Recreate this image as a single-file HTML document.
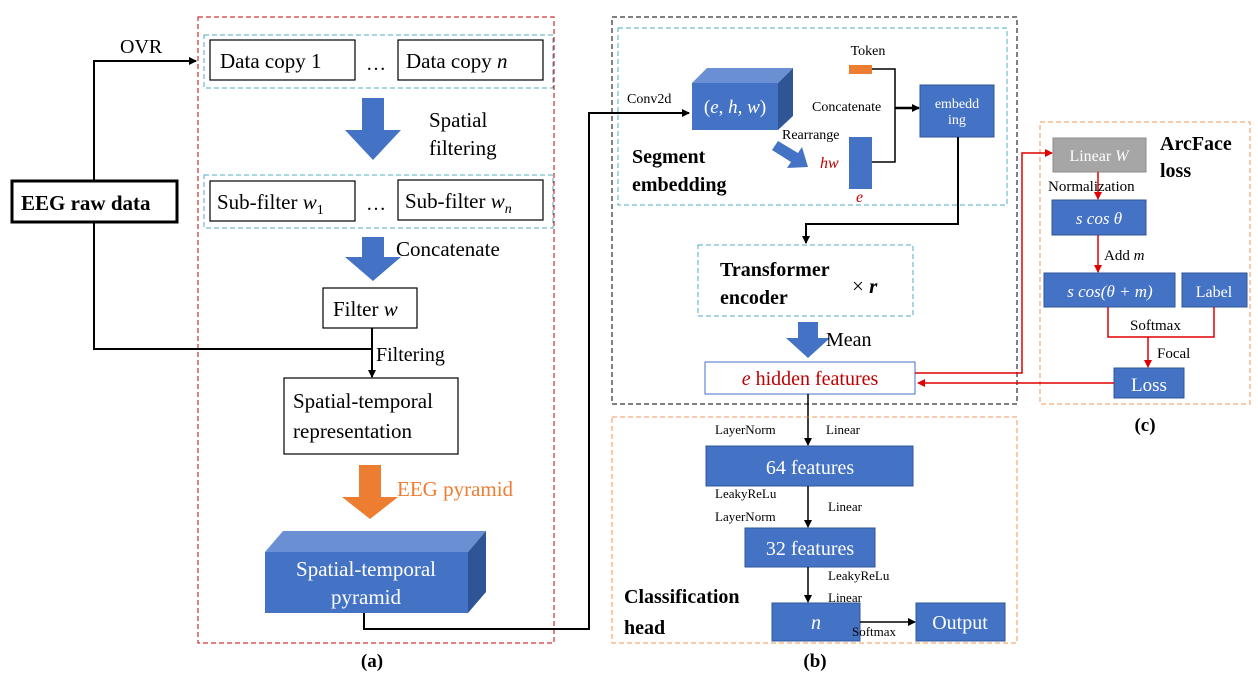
<!DOCTYPE html>
<html><head><meta charset="utf-8"><style>
html,body{margin:0;padding:0;background:#fff;}
svg{display:block;font-family:"Liberation Serif",serif;}
</style></head><body>
<svg width="1258" height="681" viewBox="0 0 1258 681" xmlns="http://www.w3.org/2000/svg">
<defs>
<marker id="ab" markerWidth="8" markerHeight="8" refX="7" refY="4" orient="auto" markerUnits="userSpaceOnUse"><path d="M0,0 L8,4 L0,8 z" fill="#000"/></marker>
<marker id="ar" markerWidth="8" markerHeight="8" refX="7" refY="4" orient="auto" markerUnits="userSpaceOnUse"><path d="M0,0 L8,4 L0,8 z" fill="#e00000"/></marker>
</defs>
<!-- Panel a -->
<rect x="198" y="17" width="356" height="626" fill="none" stroke="#c00000" stroke-dasharray="5,3" stroke-width="1"/>
<rect x="204" y="35" width="349" height="53" fill="none" stroke="#4bacc6" stroke-dasharray="5,3"/>
<rect x="210" y="40" width="145" height="40" fill="#fff" stroke="#000" stroke-width="1.2"/>
<text x="220" y="68" font-size="21">Data copy 1</text>
<text x="366" y="70" font-size="20">…</text>
<rect x="398" y="40" width="145" height="40" fill="#fff" stroke="#000" stroke-width="1.2"/>
<text x="406" y="68" font-size="21">Data copy <tspan font-style="italic">n</tspan></text>
<path d="M362,98 h22 v32 h17 l-28,30 l-28,-30 h17 z" fill="#4472c4"/>
<text x="429" y="127" font-size="21">Spatial</text>
<text x="429" y="155" font-size="21">filtering</text>
<rect x="204" y="175" width="349" height="53" fill="none" stroke="#4bacc6" stroke-dasharray="5,3"/>
<rect x="210" y="181" width="145" height="40" fill="#fff" stroke="#000" stroke-width="1.2"/>
<text x="217" y="209" font-size="21">Sub-filter <tspan font-style="italic">w</tspan><tspan font-size="14" dy="5">1</tspan></text>
<text x="366" y="210" font-size="20">…</text>
<rect x="398" y="180" width="145" height="40" fill="#fff" stroke="#000" stroke-width="1.2"/>
<text x="405" y="208" font-size="21">Sub-filter <tspan font-style="italic">w</tspan><tspan font-size="14" dy="5" font-style="italic">n</tspan></text>
<path d="M362,237 h22 v20 h17 l-28,24 l-28,-24 h17 z" fill="#4472c4"/>
<text x="396" y="256" font-size="21">Concatenate</text>
<rect x="323" y="288" width="94" height="40" fill="#fff" stroke="#000" stroke-width="1.2"/>
<text x="333" y="316" font-size="21">Filter <tspan font-style="italic">w</tspan></text>
<rect x="12" y="181" width="165" height="41" fill="#fff" stroke="#000" stroke-width="3"/>
<text x="21" y="210" font-size="21" font-weight="bold">EEG raw data</text>
<polyline points="94,181 94,61 196,61" fill="none" stroke="#000" stroke-width="2" marker-end="url(#ab)"/>
<text x="120" y="53" font-size="20">OVR</text>
<polyline points="94,222 94,349 372,349" fill="none" stroke="#000" stroke-width="2"/>
<line x1="372" y1="328" x2="372" y2="377" stroke="#000" stroke-width="2" marker-end="url(#ab)"/>
<text x="376" y="361" font-size="20">Filtering</text>
<rect x="284" y="378" width="174" height="76" fill="#fff" stroke="#000" stroke-width="1.2"/>
<text x="293" y="408" font-size="21">Spatial-temporal</text>
<text x="293" y="438" font-size="21">representation</text>
<path d="M359,465 h22 v32 h17 l-28,22 l-28,-22 h17 z" fill="#ed7d31"/>
<text x="397" y="496" font-size="21" fill="#ed7d31">EEG pyramid</text>
<polygon points="265,552 283,531 486,531 468,552" fill="#6a8fd3"/>
<polygon points="468,552 486,531 486,592 468,613" fill="#2f5597"/>
<rect x="265" y="552" width="203" height="61" fill="#4472c4"/>
<text x="366" y="576" font-size="21" fill="#fff" text-anchor="middle">Spatial-temporal</text>
<text x="366" y="604" font-size="21" fill="#fff" text-anchor="middle">pyramid</text>
<polyline points="364,613 364,629 589,629 589,113 689,113" fill="none" stroke="#000" stroke-width="2" marker-end="url(#ab)"/>
<text x="372" y="667" font-size="19" font-weight="bold" text-anchor="middle">(a)</text>
<!-- Panel b -->
<rect x="612" y="17" width="405" height="387" fill="none" stroke="#000" stroke-dasharray="5,3"/>
<rect x="618" y="28" width="389" height="177" fill="none" stroke="#4bacc6" stroke-dasharray="5,3"/>
<text x="627" y="103" font-size="14">Conv2d</text>
<polygon points="692,83 707,68 793,68 778,83" fill="#6a8fd3"/>
<polygon points="778,83 793,68 793,116 778,130" fill="#2f5597"/>
<rect x="692" y="83" width="86" height="47" fill="#4472c4"/>
<text x="735" y="113" font-size="19" fill="#fff" text-anchor="middle">(<tspan font-style="italic">e</tspan>, <tspan font-style="italic">h</tspan>, <tspan font-style="italic">w</tspan>)</text>
<text x="782" y="139" font-size="14">Rearrange</text>
<path d="M772,150 l6,-9 l20,12 l4,-6 l6,20 l-21,1 l4,-6 z" fill="#4472c4"/>
<text x="868" y="55" font-size="14" text-anchor="middle">Token</text>
<rect x="849" y="65" width="23" height="9" fill="#ed7d31"/>
<text x="812" y="111" font-size="14">Concatenate</text>
<text x="820" y="168" font-size="16" fill="#c00000" font-style="italic">hw</text>
<rect x="849" y="137" width="23" height="52" fill="#4472c4"/>
<text x="856" y="202" font-size="16" fill="#c00000" font-style="italic">e</text>
<polyline points="872,69 895,69 895,162 872,162" fill="none" stroke="#000" stroke-width="1.5"/>
<line x1="895" y1="108" x2="919" y2="108" stroke="#000" stroke-width="2.5" marker-end="url(#ab)"/>
<rect x="920" y="85" width="74" height="52" fill="#4472c4" stroke="#2f5597"/>
<text x="957" y="108" font-size="14" fill="#fff" text-anchor="middle">embedd</text>
<text x="957" y="124" font-size="14" fill="#fff" text-anchor="middle">ing</text>
<text x="632" y="163" font-size="20" font-weight="bold">Segment</text>
<text x="632" y="191" font-size="20" font-weight="bold">embedding</text>
<polyline points="958,137 958,224 806,224 806,243" fill="none" stroke="#000" stroke-width="2" marker-end="url(#ab)"/>
<rect x="698" y="245" width="215" height="71" fill="none" stroke="#4bacc6" stroke-dasharray="5,3"/>
<text x="720" y="276" font-size="20" font-weight="bold">Transformer</text>
<text x="720" y="304" font-size="20" font-weight="bold">encoder</text>
<text x="852" y="293" font-size="21">× <tspan font-style="italic" font-weight="bold">r</tspan></text>
<path d="M798,322 h20 v16 h12 l-22,20 l-22,-20 h12 z" fill="#4472c4"/>
<text x="826" y="346" font-size="20">Mean</text>
<rect x="705" y="362" width="210" height="32" fill="#fff" stroke="#4472c4"/>
<text x="810" y="385" font-size="20" fill="#c00000" text-anchor="middle"><tspan font-style="italic">e</tspan> hidden features</text>
<line x1="808" y1="394" x2="808" y2="445" stroke="#000" stroke-width="1.5" marker-end="url(#ab)"/>
<rect x="612" y="417" width="405" height="226" fill="none" stroke="#ed7d31" stroke-dasharray="5,3" stroke-opacity="0.8"/>
<text x="715" y="434" font-size="13">LayerNorm</text>
<text x="826" y="434" font-size="13">Linear</text>
<rect x="706" y="446" width="207" height="40" fill="#4472c4" stroke="#2f5597"/>
<text x="810" y="474" font-size="20" fill="#fff" text-anchor="middle">64 features</text>
<text x="715" y="498" font-size="13">LeakyReLu</text>
<text x="715" y="521" font-size="13">LayerNorm</text>
<text x="828" y="511" font-size="13">Linear</text>
<line x1="808" y1="486" x2="808" y2="527" stroke="#000" stroke-width="1.5" marker-end="url(#ab)"/>
<rect x="745" y="528" width="130" height="39" fill="#4472c4" stroke="#2f5597"/>
<text x="810" y="555" font-size="20" fill="#fff" text-anchor="middle">32 features</text>
<line x1="808" y1="567" x2="808" y2="602" stroke="#000" stroke-width="1.5" marker-end="url(#ab)"/>
<text x="828" y="580" font-size="13">LeakyReLu</text>
<text x="828" y="602" font-size="13">Linear</text>
<rect x="772" y="603" width="88" height="38" fill="#4472c4" stroke="#2f5597"/>
<text x="816" y="629" font-size="20" fill="#fff" font-style="italic" text-anchor="middle">n</text>
<line x1="860" y1="622" x2="915" y2="622" stroke="#000" stroke-width="1.5" marker-end="url(#ab)"/>
<text x="852" y="636" font-size="13">Softmax</text>
<rect x="916" y="603" width="89" height="38" fill="#4472c4" stroke="#2f5597"/>
<text x="960" y="629" font-size="20" fill="#fff" text-anchor="middle">Output</text>
<text x="624" y="603" font-size="20" font-weight="bold">Classification</text>
<text x="624" y="634" font-size="20" font-weight="bold">head</text>
<text x="815" y="667" font-size="19" font-weight="bold" text-anchor="middle">(b)</text>
<!-- Panel c -->
<rect x="1040" y="122" width="210" height="282" fill="none" stroke="#ed7d31" stroke-dasharray="5,3" stroke-opacity="0.8"/>
<rect x="1053" y="138" width="93" height="34" fill="#a6a6a6" stroke="#8c8c8c"/>
<text x="1099" y="161" font-size="16" fill="#fff" text-anchor="middle">Linear <tspan font-style="italic">W</tspan></text>
<text x="1160" y="150" font-size="20" font-weight="bold">ArcFace</text>
<text x="1160" y="177" font-size="20" font-weight="bold">loss</text>
<line x1="1098" y1="172" x2="1098" y2="199" stroke="#e00000" stroke-width="1.5" marker-end="url(#ar)"/>
<text x="1048" y="191" font-size="15">Normalization</text>
<rect x="1052" y="200" width="94" height="35" fill="#4472c4" stroke="#2f5597"/>
<text x="1099" y="224" font-size="17" fill="#fff" font-style="italic" text-anchor="middle">s cos θ</text>
<line x1="1098" y1="235" x2="1098" y2="272" stroke="#e00000" stroke-width="1.5" marker-end="url(#ar)"/>
<text x="1104" y="260" font-size="15">Add <tspan font-style="italic">m</tspan></text>
<rect x="1044" y="273" width="131" height="34" fill="#4472c4" stroke="#2f5597"/>
<text x="1110" y="297" font-size="17" fill="#fff" font-style="italic" text-anchor="middle">s cos(θ + m)</text>
<rect x="1182" y="273" width="65" height="34" fill="#4472c4" stroke="#2f5597"/>
<text x="1214" y="297" font-size="16" fill="#fff" text-anchor="middle">Label</text>
<polyline points="1108,307 1108,337 1214,337 1214,307" fill="none" stroke="#e00000" stroke-width="1.5"/>
<line x1="1148" y1="337" x2="1148" y2="367" stroke="#e00000" stroke-width="1.5" marker-end="url(#ar)"/>
<text x="1130" y="330" font-size="15">Softmax</text>
<text x="1157" y="358" font-size="15">Focal</text>
<rect x="1114" y="368" width="70" height="30" fill="#4472c4" stroke="#2f5597"/>
<text x="1149" y="391" font-size="19" fill="#fff" text-anchor="middle">Loss</text>
<polyline points="1114,383 918,383" fill="none" stroke="#e00000" stroke-width="1.5" marker-end="url(#ar)"/>
<polyline points="915,373 1022,373 1022,153 1052,153" fill="none" stroke="#e00000" stroke-width="1.5" marker-end="url(#ar)"/>
<text x="1145" y="431" font-size="19" font-weight="bold" text-anchor="middle">(c)</text>
</svg>
</body></html>
